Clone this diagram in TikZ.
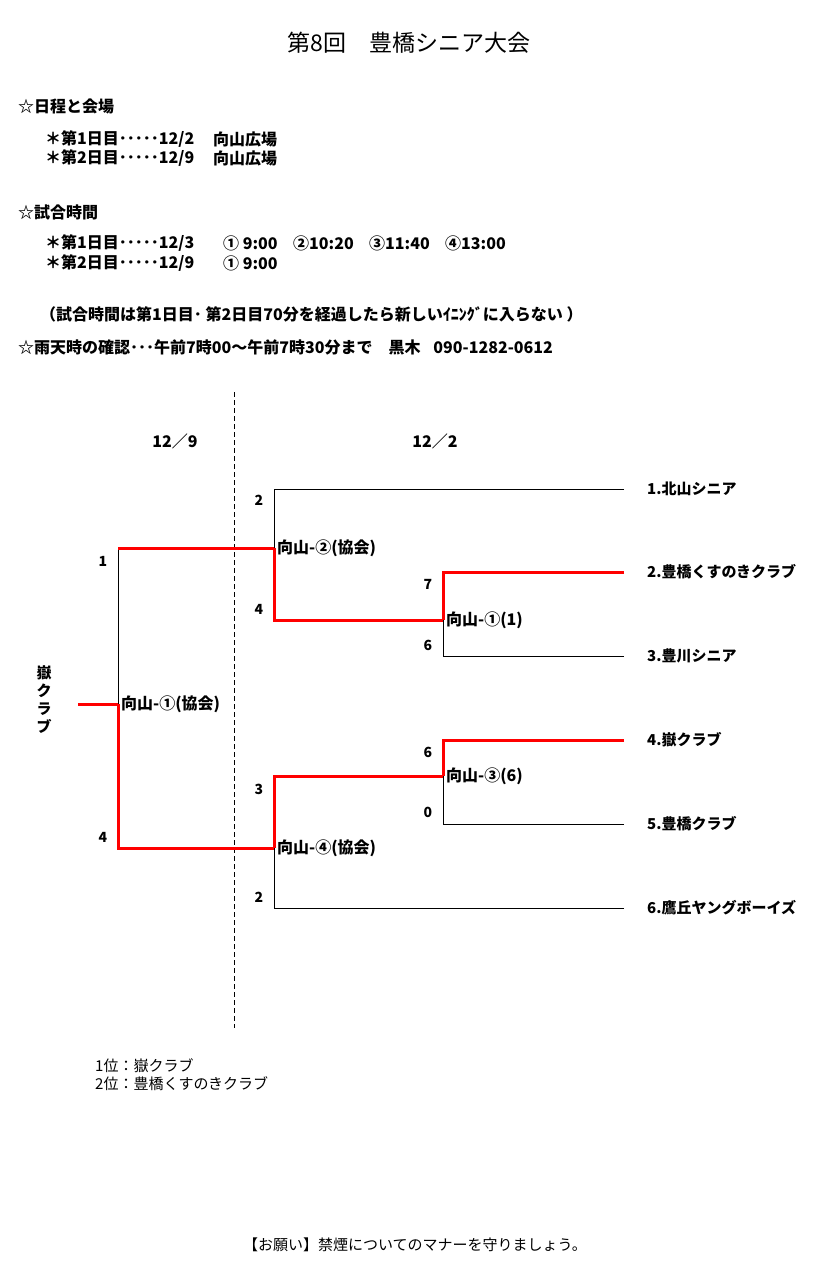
\documentclass[tikz,border=0pt]{standalone}
\usepackage{fontspec}
\setmainfont{Noto Sans CJK JP}
\usetikzlibrary{positioning}

\begin{document}
\begin{tikzpicture}[x=1pt,y=-1pt,
  txt/.style={anchor=west,inner sep=0pt,font=\fontsize{16}{19}\selectfont\bfseries},
  plain/.style={anchor=west,inner sep=0pt,font=\fontsize{15}{18}\selectfont},
  team/.style={anchor=west,inner sep=0pt,font=\fontsize{15}{18}\selectfont\bfseries},
  game/.style={inner sep=3pt,font=\fontsize{16}{19}\selectfont\bfseries},
  score/.style={inner sep=0pt,font=\fontsize{14}{17}\selectfont\bfseries},
  lose/.style={line width=1pt},
  win/.style={red,line width=3pt}]
\useasboundingbox (0,0) rectangle (833,1269);
% title and notes
\node[font=\fontsize{23}{28}\selectfont] (title) at (409,43) {第8回\hspace{1em}豊橋シニア大会};
\node[txt] (h1) at (18,106) {☆日程と会場};
\node[txt] (h1a) at (45,139) {＊第1日目･････12/2};
\node[txt] (p1) at (213,139) {向山広場};
\node[txt] (h1b) at (45,158) {＊第2日目･････12/9};
\node[txt] (p2) at (213,158) {向山広場};
\node[txt] (h2) at (18,212) {☆試合時間};
\node[txt] (h2a) at (45,243) {＊第1日目･････12/3};
\node[txt] (k1) at (223,243) {① 9:00};
\node[txt] (k2) at (293,243) {②10:20};
\node[txt] (k3) at (369,243) {③11:40};
\node[txt] (k4) at (445,243) {④13:00};
\node[txt] (h2b) at (45,263) {＊第2日目･････12/9};
\node[txt] (k5) at (223,263) {① 9:00};
\node[txt] (h3) at (40,314) {（試合時間は第1日目･ 第2日目70分を経過したら新しいｲﾆﾝｸﾞに入らない ）};
\node[txt] (h4) at (18,347) {☆雨天時の確認･･･午前7時00～午前7時30分まで\hspace{1em}黒木\hspace{0.8em}090-1282-0612};

% days
\coordinate (d1) at (234,392);
\coordinate (d2) at (234,1028);
\draw[lose,dash pattern=on 5pt off 3pt] (d1) -- (d2);
\node[txt,anchor=center] (day2) at (175,441) {12／9};
\node[txt,anchor=center] (day1) at (435,441) {12／2};

% line ends of the teams
\coordinate (e1) at (624,489);
\coordinate (e2) at (624,572);
\coordinate (e3) at (624,656);
\coordinate (e4) at (624,740);
\coordinate (e5) at (624,824);
\coordinate (e6) at (624,908);
% games
\coordinate (q1) at (443,620);
\coordinate (q2) at (443,776);
\coordinate (s1) at (274,548);
\coordinate (s2) at (274,848);
\coordinate (f1) at (118,548);
\coordinate (f) at (118,704);
\coordinate (w) at (78,704);

\node[team] (t1) at (647,489) {1.北山シニア};
\node[team] (t2) at (647,572) {2.豊橋くすのきクラブ};
\node[team] (t3) at (647,656) {3.豊川シニア};
\node[team] (t4) at (647,740) {4.嶽クラブ};
\node[team] (t5) at (647,824) {5.豊橋クラブ};
\node[team] (t6) at (647,908) {6.鷹丘ヤングボーイズ};

\draw[lose] (e1) -| (s1);
\draw[lose] (e3) -| (q1);
\draw[lose] (e5) -| (q2);
\draw[lose] (e6) -| (s2);
\draw[lose] (f1) -- (f);
\draw[win] (e2) -| (q1);
\draw[win] (e4) -| (q2);
\draw[win] (q1) -| (s1);
\draw[win] (q2) -| (s2);
\draw[win] (s1) -- (f1);
\draw[win] (s2) -| (f);
\draw[win] (f) -- (w);

\node[game,right=0pt of q1] (g1) {向山-①(1)};
\node[game,right=0pt of q2] (g3) {向山-③(6)};
\node[game,right=0pt of s1] (g2) {向山-②(協会)};
\node[game,right=0pt of s2] (g4) {向山-④(協会)};
\node[game,right=0pt of f] (g0) {向山-①(協会)};

% scores
\node[score] (a1) at (428,584) {7};
\node[score] (a2) at (428,645) {6};
\node[score] (a3) at (428,752) {6};
\node[score] (a4) at (428,812) {0};
\node[score] (b1) at (259,500) {2};
\node[score] (b2) at (259,609) {4};
\node[score] (b3) at (259,789) {3};
\node[score] (b4) at (259,897) {2};
\node[score] (c1) at (103,561) {1};
\node[score] (c2) at (103,837) {4};

\node[align=center,inner sep=0pt,font=\fontsize{15}{18}\selectfont\bfseries] (champ) at (44,700) {嶽\\ク\\ラ\\ブ};

% result
\node[plain] (r1) at (95,1066) {1位：嶽クラブ};
\node[plain] (r2) at (95,1084) {2位：豊橋くすのきクラブ};
\node[plain,anchor=center] (note) at (415,1245) {【お願い】禁煙についてのマナーを守りましょう。};
\end{tikzpicture}
\end{document}
